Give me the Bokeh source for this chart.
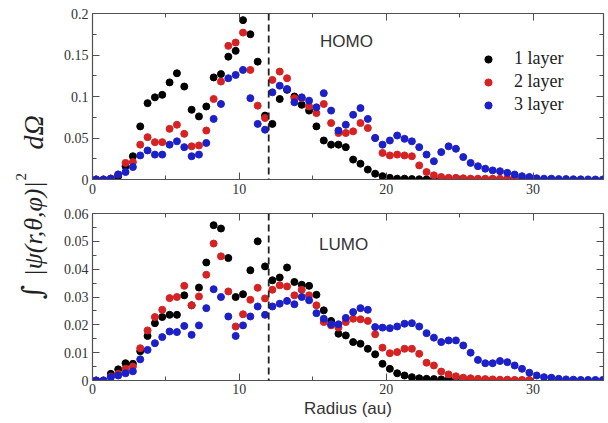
import math
from bokeh.plotting import figure
from bokeh.models import Range1d, LinearAxis, FixedTicker, Span, Label, CustomLabelingPolicy
from bokeh.layouts import row, column
from bokeh.embed import file_html
from bokeh.resources import INLINE

# ---------------- data ----------------
radius = [0.25, 0.75, 1.25, 1.75, 2.25, 2.75, 3.25, 3.75, 4.25, 4.75,
          5.25, 5.75, 6.25, 6.75, 7.25, 7.75, 8.25, 8.75, 9.25, 9.75,
          10.25, 10.75, 11.25, 11.75, 12.25, 12.75, 13.25, 13.75, 14.25, 14.75,
          15.25, 15.75, 16.25, 16.75, 17.25, 17.75, 18.25, 18.75, 19.25, 19.75,
          20.25, 20.75, 21.25, 21.75, 22.25, 22.75, 23.25, 23.75, 24.25, 24.75,
          25.25, 25.75, 26.25, 26.75, 27.25, 27.75, 28.25, 28.75, 29.25, 29.75,
          30.25, 30.75, 31.25, 31.75, 32.25, 32.75, 33.25, 33.75, 34.25, 34.75]

homo_1layer = [0.0, 0.0, 0.001, 0.004, 0.016, 0.028, 0.064, 0.092, 0.099, 0.102,
               0.117, 0.128, 0.112, 0.084, 0.076, 0.088, 0.123, 0.127, 0.148, 0.155,
               0.192, 0.175, 0.142, 0.077, 0.067, 0.097, 0.108, 0.100, 0.090, 0.083,
               0.064, 0.047, 0.042, 0.042, 0.039, 0.024, 0.019, 0.012, 0.007, 0.004,
               0.002, 0.001, 0.001, 0.0005, 0.0003, 0.0002, 0.0001, 0.0, 0.0, 0.0,
               0.0, 0.0, 0.0, 0.0, 0.0, 0.0, 0.0, 0.0, 0.0, 0.0]
homo_2layer = [0.0, 0.0, 0.001, 0.006, 0.020, 0.021, 0.042, 0.051, 0.045, 0.045,
               0.061, 0.066, 0.055, 0.040, 0.041, 0.059, 0.097, 0.118, 0.161, 0.165,
               0.177, 0.132, 0.089, 0.074, 0.120, 0.130, 0.122, 0.098, 0.098, 0.088,
               0.080, 0.091, 0.068, 0.056, 0.056, 0.058, 0.068, 0.062, 0.050, 0.032,
               0.029, 0.030, 0.029, 0.028, 0.017, 0.009, 0.005, 0.003, 0.002, 0.002,
               0.0015, 0.001, 0.001, 0.001, 0.001, 0.001, 0.001, 0.001, 0.001, 0.001]
homo_3layer = [0.0, 0.0, 0.001, 0.006, 0.009, 0.015, 0.029, 0.035, 0.030, 0.030,
               0.042, 0.046, 0.039, 0.028, 0.030, 0.044, 0.073, 0.091, 0.122, 0.126,
               0.132, 0.098, 0.067, 0.060, 0.105, 0.113, 0.109, 0.093, 0.099, 0.095,
               0.087, 0.104, 0.083, 0.059, 0.066, 0.078, 0.086, 0.073, 0.050, 0.042,
               0.047, 0.053, 0.049, 0.046, 0.039, 0.030, 0.022, 0.033, 0.040, 0.037,
               0.027, 0.020, 0.016, 0.013, 0.011, 0.010, 0.008, 0.006, 0.004, 0.003,
               0.0015, 0.001, 0.001, 0.0005, 0.0005, 0.0003, 0.0002, 0.0001, 0.0, 0.0]

lumo_1layer = [0.0, 0.0, 0.0024, 0.004, 0.0062, 0.006, 0.0105, 0.016, 0.0206, 0.0228,
               0.0236, 0.0236, 0.0306, 0.027, 0.0334, 0.0424, 0.0558, 0.0546, 0.044, 0.030,
               0.031, 0.0396, 0.050, 0.041, 0.036, 0.037, 0.0406, 0.0354, 0.0344, 0.034,
               0.0308, 0.0252, 0.0214, 0.0168, 0.0162, 0.0138, 0.0132, 0.0114, 0.0094, 0.006,
               0.0042, 0.0026, 0.0018, 0.0012, 0.0008, 0.0006, 0.0005, 0.0004, 0.0003, 0.0002,
               0.0002, 0.0001, 0.0001, 0.0001, 0.0, 0.0, 0.0, 0.0, 0.0, 0.0]
lumo_2layer = [0.0, 0.0, 0.0014, 0.0024, 0.0042, 0.005, 0.0116, 0.018, 0.0228, 0.0254,
               0.0296, 0.030, 0.034, 0.027, 0.0302, 0.038, 0.0492, 0.0446, 0.032, 0.0194,
               0.0238, 0.029, 0.0333, 0.0295, 0.0326, 0.0342, 0.0338, 0.0306, 0.0326, 0.0306,
               0.027, 0.021, 0.0198, 0.019, 0.021, 0.0222, 0.022, 0.0214, 0.0166, 0.0118,
               0.0098, 0.0102, 0.0114, 0.0114, 0.0096, 0.0064, 0.0054, 0.0032, 0.0022, 0.0015,
               0.001, 0.0008, 0.0006, 0.0005, 0.0004, 0.0003, 0.0003, 0.0002, 0.0002, 0.0002]
lumo_3layer = [0.0, 0.0, 0.0012, 0.0018, 0.0026, 0.0033, 0.0076, 0.011, 0.0134, 0.0156,
               0.0176, 0.0174, 0.0196, 0.0164, 0.0198, 0.026, 0.0328, 0.030, 0.023, 0.016,
               0.0198, 0.023, 0.0266, 0.0236, 0.0266, 0.0276, 0.0286, 0.0274, 0.030, 0.0288,
               0.0242, 0.0222, 0.0202, 0.0202, 0.0225, 0.0246, 0.026, 0.0254, 0.0192, 0.019,
               0.0188, 0.0194, 0.0204, 0.0206, 0.0194, 0.017, 0.0154, 0.0138, 0.0144, 0.0144,
               0.0126, 0.010, 0.0074, 0.0062, 0.0062, 0.007, 0.0066, 0.0054, 0.0042, 0.0028,
               0.0018, 0.0012, 0.001, 0.0006, 0.0004, 0.0003, 0.0002, 0.0002, 0.0002, 0.0002]

series_names = ["1 layer", "2 layer", "3 layer"]
x_ticks = [0, 10, 20, 30]
x_minor = [5, 15, 25]
homo_yticks = [0, 0.05, 0.1, 0.15, 0.2]
homo_ylabels = ["0", "0.05", "0.1", "0.15", "0.2"]
homo_minor = [0.025, 0.075, 0.125, 0.175]
lumo_yticks = [0, 0.01, 0.02, 0.03, 0.04, 0.05, 0.06]
lumo_ylabels = ["0", "0.01", "0.02", "0.03", "0.04", "0.05", "0.06"]
lumo_minor = [0.005, 0.015, 0.025, 0.035, 0.045, 0.055]
dash_at = 12

COLORS = ["#000000", "#d62222", "#1c20c8"]
X_END = 34.8
AX = "#505050"
SERIF = "Liberation Serif"


def style_axis(ax, show_labels):
    ax.axis_line_color = AX
    ax.axis_line_width = 1.2
    ax.major_tick_in = 7
    ax.major_tick_out = 0
    ax.minor_tick_in = 4
    ax.minor_tick_out = 0
    ax.major_tick_line_color = AX
    ax.minor_tick_line_color = AX
    ax.major_label_text_font = SERIF
    ax.major_label_text_color = "#333333"
    if show_labels:
        ax.major_label_text_font_size = "14px"
        ax.major_label_standoff = 4
    else:
        # tick marks only: hide every label of the mirror axis
        ax.major_label_text_font_size = "1px"
        ax.major_label_standoff = 0
        ax.major_label_policy = CustomLabelingPolicy(
            code="for (const i of indices) { indices.unset(i) } return indices")


def panel(ys, y_end, yticks, ylabels, yminor, height, btop, bbottom, tag, tag_xy, legend, xlabel):
    p = figure(width=560, height=height, x_range=Range1d(0, X_END), y_range=Range1d(0, y_end),
               output_backend="svg", toolbar_location=None, x_axis_type=None, y_axis_type=None,
               min_border_left=44, min_border_right=2, min_border_top=btop,
               min_border_bottom=bbottom)
    p.outline_line_color = None
    xt = FixedTicker(ticks=x_ticks, minor_ticks=x_minor)
    yt = FixedTicker(ticks=yticks, minor_ticks=yminor)
    for side in ["below", "above"]:
        ax = LinearAxis(ticker=xt)
        style_axis(ax, side == "below")
        if side == "below" and xlabel:
            ax.axis_label = xlabel
            ax.axis_label_text_font = "Liberation Sans"
            ax.axis_label_text_font_size = "17px"
            ax.axis_label_text_font_style = "normal"
            ax.axis_label_text_color = "#333333"
            ax.axis_label_standoff = 2
            ax.major_label_standoff = 3
        p.add_layout(ax, side)
    for side in ["left", "right"]:
        ax = LinearAxis(ticker=yt)
        style_axis(ax, side == "left")
        if side == "left":
            ax.major_label_overrides = {t: s for t, s in zip(yticks, ylabels)}
        p.add_layout(ax, side)

    for i, (vals, c) in enumerate(zip(ys, COLORS)):
        kw = dict(size=7, fill_color=c, line_color=c)
        if legend:
            kw["legend_label"] = series_names[i]
        p.scatter(radius[:len(vals)], vals, **kw)

    p.add_layout(Span(location=dash_at, dimension="height", line_color="#222222",
                      line_dash="7 4", line_width=1.8))
    p.add_layout(Label(x=tag_xy[0], y=tag_xy[1], text=tag, text_font="Liberation Sans",
                       text_font_size="17px", text_align="center", text_baseline="middle",
                       text_color="#333333"))
    if legend:
        lg = p.legend[0]
        lg.location = (387, 64)
        lg.background_fill_alpha = 0
        lg.border_line_alpha = 0
        lg.label_text_font = SERIF
        lg.label_text_font_size = "18px"
        lg.label_text_color = "#222222"
        lg.glyph_width = 18
        lg.glyph_height = 18
        lg.label_height = 18
        lg.spacing = 2
        lg.padding = 0
        lg.margin = 0
        lg.label_standoff = 17
    return p


p1 = panel([homo_1layer, homo_2layer, homo_3layer], 0.2, homo_yticks, homo_ylabels, homo_minor,
           199, 13, 20, "HOMO", (17.3, 0.166), True, None)
p2 = panel([lumo_1layer, lumo_2layer, lumo_3layer], 0.06, lumo_yticks, lumo_ylabels, lumo_minor,
           224, 14, 43, "LUMO", (17.1, 0.049), False, "Radius (au)")

# y-axis label (rotated), drawn in a narrow side figure
lab = figure(width=48, height=423, x_range=Range1d(0, 48), y_range=Range1d(0, 423),
             output_backend="svg", toolbar_location=None, x_axis_type=None, y_axis_type=None,
             min_border=0)
lab.outline_line_color = None
pieces = [
    ("\u222b", 32, 124, "28px", "normal", "DejaVu Serif"),
    ("|\u03c8(r,\u03b8,\u03c6)|", 33, 147, "26px", "italic", SERIF),
    ("2", 20, 243, "15px", "normal", SERIF),
    ("d\u03a9", 33, 274, "28px", "italic", SERIF),
]
for t, x, y, fs, st, fnt in pieces:
    lab.add_layout(Label(x=x, y=y, text=t, angle=math.pi / 2, text_font=fnt,
                         text_font_size=fs, text_font_style=st, text_align="left",
                         text_baseline="alphabetic", text_color="#222222"))

layout = row(lab, column(p1, p2))
open("out.html", "w").write(file_html(layout, INLINE))
